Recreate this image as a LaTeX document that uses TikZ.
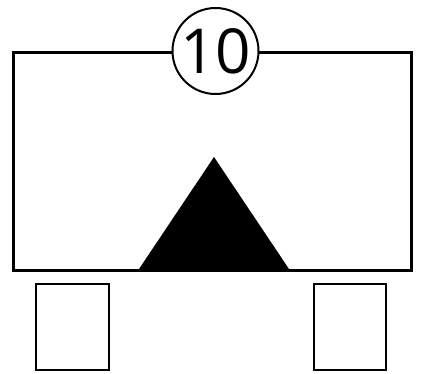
\documentclass[tikz,border=0pt]{standalone}
\usepackage{fontspec}
\setmainfont{Open Sans}
\begin{document}
\begin{tikzpicture}[x=1pt, y=-1pt, line join=miter]
  \tikzset{
    frame/.style={draw, line width=3pt},
    foot/.style={draw, line width=2.2pt},
    badge/.style={circle, draw, fill=white, line width=2pt, minimum size=86pt, inner sep=0pt, font=\fontsize{62}{62}\selectfont}
  }
  \useasboundingbox (0,0) rectangle (424,374);
  % Main box
  \draw[frame] (13,53) coordinate (tl) rectangle (411,271) coordinate (br);
  % Triangle
  \coordinate (apex) at (214,157);
  \coordinate (baseL) at (137,272);
  \coordinate (baseR) at (291,272);
  \fill (apex) -- (baseL) -- (baseR) -- cycle;
  % Feet
  \draw[foot] (36,284) rectangle (109,370);
  \draw[foot] (314,284) rectangle (386,370);
  % Number badge
  \node[badge] (num) at (215.5,51) {\raisebox{-1pt}{10}};
\end{tikzpicture}
\end{document}
